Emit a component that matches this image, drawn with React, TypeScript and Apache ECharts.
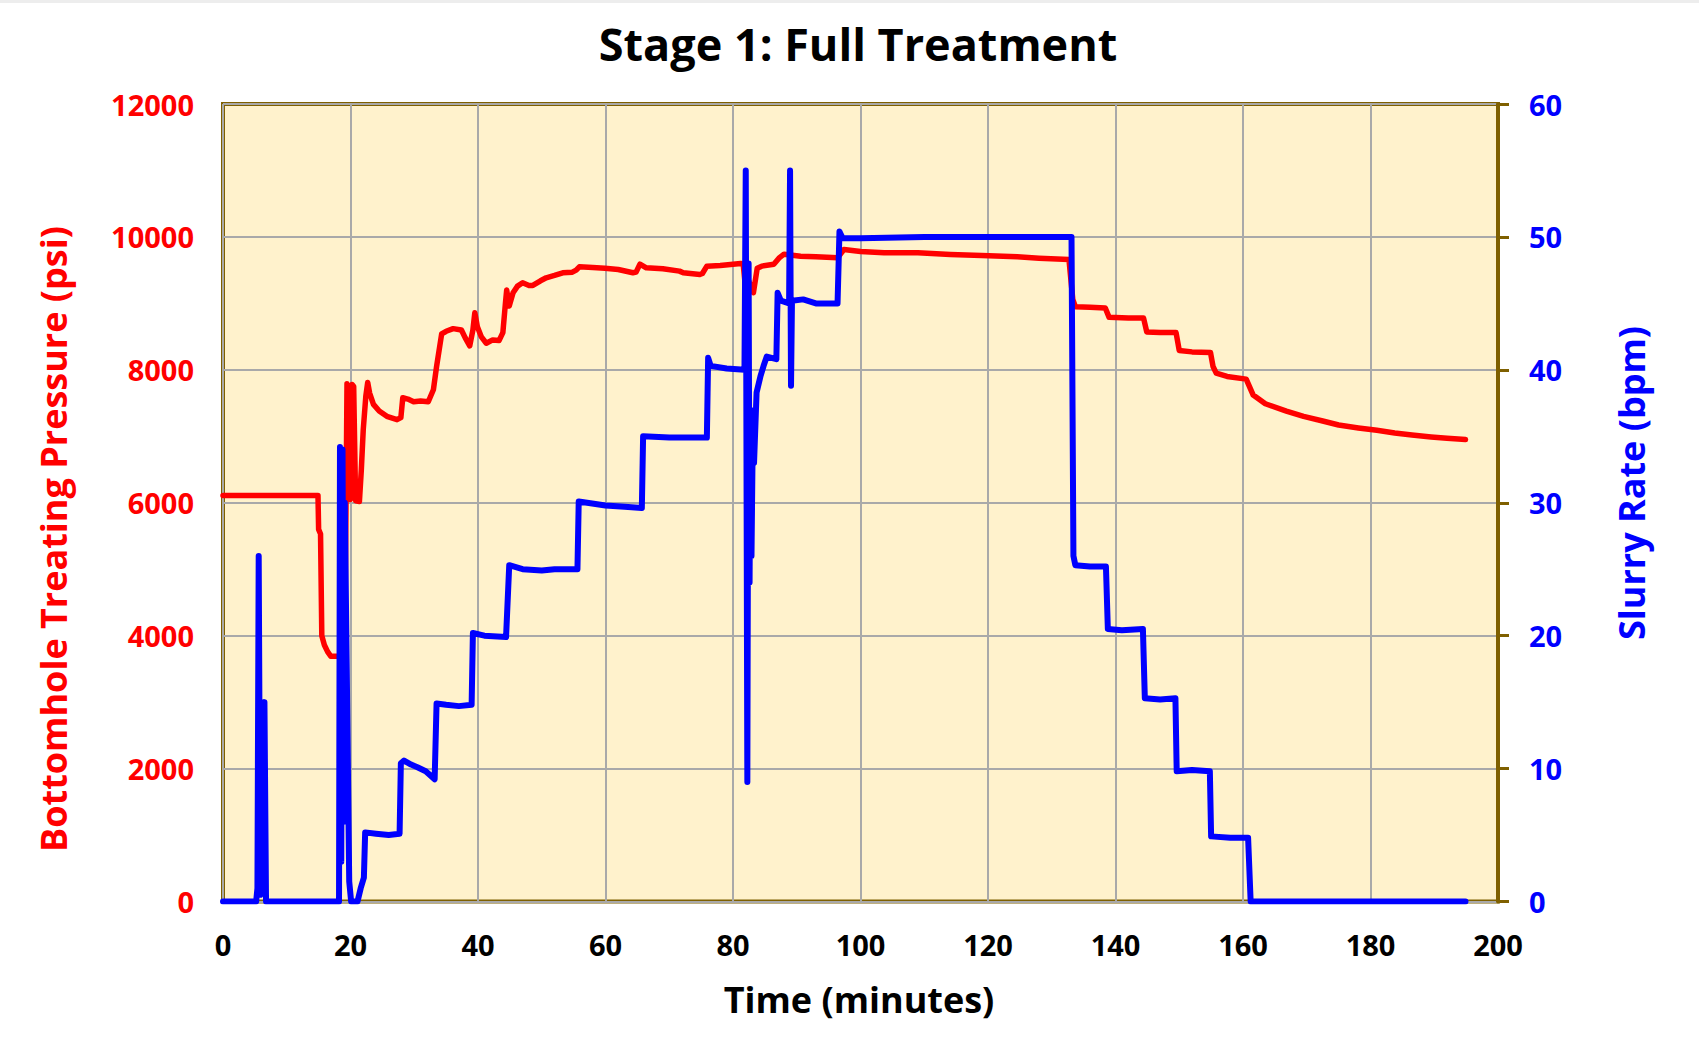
import { useEffect, useRef } from "react";
import * as echarts from "echarts";

// Bottomhole treating pressure (psi) against time (minutes)
const pressureTime = [
  0, 14.9, 15.0, 15.3, 15.5, 15.9, 16.4, 16.9, 18.9, 19.1, 19.3, 19.45, 19.7, 19.95, 20.25, 20.5, 20.8,
  21.4, 21.7, 22.0, 22.4, 22.7, 23.0, 23.6, 24.5, 25.7, 27.3, 27.9, 28.2, 29.0, 29.9, 31.0, 32.2, 33.0,
  33.5, 34.3, 35.0, 36.1, 37.4, 38.0, 38.7, 39.2, 39.5, 39.9, 40.5, 41.3, 42.3, 43.3, 43.9, 44.3, 44.5,
  44.9, 45.5, 46.2, 47.0, 48.0, 48.6, 49.8, 50.7, 52.0, 53.3, 54.8, 55.4, 55.9, 58.0, 59.9, 62.0, 64.3,
  64.8, 65.4, 66.4, 69.0, 71.6, 72.2, 74.8, 75.2, 75.9, 78.0, 81.2, 81.6, 81.9, 82.4, 83.2, 83.8, 84.5,
  86.4, 87.2, 88.0, 90.6, 93.0, 96.4, 97.4, 100.0, 103.7, 109.0, 114.1, 119.0, 124.6, 128.0, 132.7,
  133.3, 133.7, 136.0, 138.4, 139.0, 142.0, 144.4, 144.9, 147.0, 149.5, 150.0, 152.0, 154.9, 155.3,
  155.8, 157.5, 160.5, 161.0, 161.6, 163.5, 166.8, 169.5, 172.5, 175.0, 178.1, 181.0, 183.8, 186.5,
  189.5, 192.0, 194.9,
];
const pressurePsi = [
  6110, 6110, 5600, 5530, 4000, 3860, 3760, 3690, 3690, 3850, 6000, 7790, 7700, 6050, 7780, 7750, 6030,
  6020, 6500, 7100, 7600, 7810, 7650, 7480, 7380, 7300, 7250, 7280, 7580, 7560, 7520, 7530, 7520, 7700,
  8050, 8540, 8580, 8620, 8600, 8480, 8360, 8600, 8860, 8650, 8500, 8400, 8450, 8440, 8560, 9000, 9200,
  8960, 9160, 9260, 9310, 9270, 9270, 9340, 9385, 9420, 9460, 9470, 9500, 9550, 9540, 9530, 9510, 9460,
  9470, 9590, 9535, 9520, 9485, 9460, 9435, 9450, 9560, 9570, 9600, 9590, 9300, 9350, 9160, 9530, 9560,
  9590, 9680, 9740, 9710, 9700, 9686, 9810, 9780, 9760, 9760, 9736, 9720, 9700, 9680, 9660,
  9060, 8950, 8940, 8930, 8790, 8780, 8780, 8570, 8560, 8560, 8290, 8270, 8260, 8050,
  7950, 7900, 7860, 7750, 7620, 7490, 7380, 7300, 7230, 7170, 7126, 7090, 7050, 7020,
  6990, 6970, 6950,
];

// Slurry rate (bpm) against time (minutes)
const rateTime = [
  0, 5.2, 5.4, 5.6, 5.85, 6.1, 6.3, 6.5, 6.75, 18.2, 18.35, 18.55, 18.75, 18.95, 19.1, 19.4, 19.8, 20.1,
  21.1, 21.6, 22.1, 22.3, 24, 26, 27.7, 27.9, 28.4, 29.5, 30.5, 31.8, 33.2, 33.5, 35, 37, 39.0, 39.2, 41,
  44.4, 44.9, 47, 50, 52, 55.6, 55.8, 60, 63, 65.7, 65.9, 70, 75.9, 76.1, 76.5, 79, 81.8, 82.0, 82.25,
  82.45, 82.6, 82.75, 82.9, 83.1, 83.3, 83.7, 84.3, 84.8, 85.3, 86.8, 87.0, 87.5, 88.8, 88.95, 89.1,
  89.25, 91, 93, 96.4, 96.7, 97.2, 100, 110, 120, 125, 133.1, 133.4, 133.7, 136, 138.5, 138.8, 141,
  144.3, 144.6, 147, 149.4, 149.6, 152, 154.8, 155.0, 158, 160.8, 161.2, 194.9,
];
const rateBpm = [
  0, 0, 1, 26, 0.5, 15, 1, 15, 0, 0, 34.2, 3, 34, 6, 30, 18, 1.5, 0,
  0, 1, 1.8, 5.2, 5.1, 5.0, 5.1, 10.4, 10.6, 10.3, 10.1, 9.8, 9.2, 14.9, 14.8, 14.7, 14.8, 20.2, 20.0,
  19.9, 25.3, 25.0, 24.9, 25.0, 25.0, 30.1, 29.8, 29.7, 29.6, 35.0, 34.9, 34.9, 40.9, 40.3, 40.1, 40.0, 55, 9,
  48, 24, 37, 26, 35, 33, 38.3, 39.5, 40.3, 41.0, 40.8, 45.8, 45.2, 45.0, 55, 38.8,
  45.2, 45.3, 45.0, 45.0, 50.4, 49.9, 49.9, 50.0, 50.0, 50.0, 50.0, 26.0, 25.3, 25.2, 25.2, 20.5, 20.4,
  20.5, 15.3, 15.2, 15.3, 9.8, 9.9, 9.8, 4.9, 4.8, 4.8, 0, 0,
];

const chartTitle = "Stage 1: Full Treatment";
const xAxisTitle = "Time (minutes)";
const leftAxisTitle = "Bottomhole Treating Pressure (psi)";
const rightAxisTitle = "Slurry Rate (bpm)";

const FONT = "'Open Sans', 'Noto Sans', sans-serif";
const RED = "#FF0000";
const BLUE = "#0000FF";
const FRAME = "#7F6000";
const GRID_GRAY = "#A9A9A9";

const zip = (xs: number[], ys: number[]) => xs.map((x, i) => [x, ys[i]]);
const plain = (v: number) => String(v);

export default function App() {
  const ref = useRef<HTMLDivElement>(null);

  useEffect(() => {
    document.body.style.margin = "0";
    if (!ref.current) return;
    const chart = echarts.init(ref.current, undefined, { renderer: "svg" });

    const labelBase = { fontFamily: FONT, fontWeight: "bold" as const, fontSize: 29, formatter: plain };

    chart.setOption({
      animation: false,
      backgroundColor: "#FFFFFF",
      grid: {
        left: 223,
        right: 201,
        top: 104,
        bottom: 155.5,
        show: true,
        backgroundColor: "#FFF2CC",
        borderColor: FRAME,
        borderWidth: 4,
        containLabel: false,
      },
      xAxis: {
        type: "value",
        min: 0,
        max: 200,
        interval: 20,
        axisLine: { show: false },
        axisTick: { show: false },
        splitLine: { show: true, lineStyle: { color: GRID_GRAY, width: 2 } },
        axisLabel: { ...labelBase, color: "#000000", margin: 28, showMinLabel: true, showMaxLabel: true },
      },
      yAxis: [
        {
          type: "value",
          position: "left",
          min: 0,
          max: 12000,
          interval: 2000,
          axisLine: { show: false },
          axisTick: { show: false },
          splitLine: { show: true, lineStyle: { color: GRID_GRAY, width: 2 } },
          axisLabel: { ...labelBase, color: RED, margin: 29, showMinLabel: true, showMaxLabel: true },
        },
        {
          type: "value",
          position: "right",
          min: 0,
          max: 60,
          interval: 10,
          axisLine: { show: true, lineStyle: { color: FRAME, width: 4 } },
          axisTick: { show: true, inside: false, length: 11, lineStyle: { color: FRAME, width: 3 } },
          splitLine: { show: false },
          axisLabel: { ...labelBase, color: BLUE, margin: 31, showMinLabel: true, showMaxLabel: true },
        },
      ],
      series: [
        {
          name: "Bottomhole Treating Pressure",
          type: "line",
          yAxisIndex: 0,
          data: zip(pressureTime, pressurePsi),
          showSymbol: false,
          symbol: "none",
          lineStyle: { color: RED, width: 5.5, join: "round", cap: "round" },
          itemStyle: { color: RED },
          z: 2,
        },
        {
          name: "Slurry Rate",
          type: "line",
          yAxisIndex: 1,
          data: zip(rateTime, rateBpm),
          showSymbol: false,
          symbol: "none",
          lineStyle: { color: BLUE, width: 6, join: "round", cap: "round" },
          itemStyle: { color: BLUE },
          z: 3,
        },
      ],
      graphic: [
        { type: "rect", shape: { x: 0, y: 0, width: 1699, height: 3 }, style: { fill: "#EDEDED" }, silent: true },
        {
          type: "text",
          x: 858,
          y: 43,
          style: {
            text: chartTitle,
            fontFamily: FONT,
            fontWeight: "bold",
            fontSize: 45,
            fill: "#000000",
            align: "center",
            verticalAlign: "middle",
          },
        },
        {
          type: "text",
          x: 859,
          y: 999,
          style: {
            text: xAxisTitle,
            fontFamily: FONT,
            fontWeight: "bold",
            fontSize: 36,
            fill: "#000000",
            align: "center",
            verticalAlign: "middle",
          },
        },
        {
          type: "text",
          x: 53,
          y: 539,
          rotation: Math.PI / 2,
          style: {
            text: leftAxisTitle,
            fontFamily: FONT,
            fontWeight: "bold",
            fontSize: 36,
            fill: RED,
            align: "center",
            verticalAlign: "middle",
          },
        },
        {
          type: "text",
          x: 1631,
          y: 483,
          rotation: Math.PI / 2,
          style: {
            text: rightAxisTitle,
            fontFamily: FONT,
            fontWeight: "bold",
            fontSize: 36,
            fill: BLUE,
            align: "center",
            verticalAlign: "middle",
          },
        },
      ],
    });

    return () => chart.dispose();
  }, []);

  return (
    <div
      ref={ref}
      style={{ position: "absolute", left: 0, top: 0, width: 1699, height: 1057 }}
    />
  );
}
